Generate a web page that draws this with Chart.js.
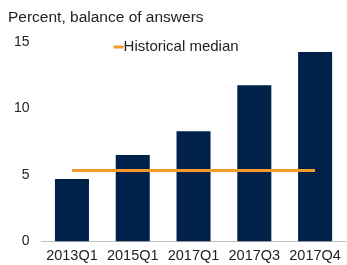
<!DOCTYPE html>
<html>
<head>
<meta charset="utf-8">
<script src="https://cdn.jsdelivr.net/npm/chart.js@4"></script>
<style>
  html, body { margin: 0; padding: 0; background: #fff; }
  #wrap { width: 347px; height: 265px; }
</style>
</head>
<body>
<div id="wrap"><canvas id="chart" width="347" height="265"></canvas></div>
<script>
var categories = ['2013Q1', '2015Q1', '2017Q1', '2017Q3', '2017Q4'];
var balanceValues = [4.7, 6.5, 8.3, 11.75, 14.25];
var medianValues = [5.35, 5.35, 5.35, 5.35, 5.35];
var yTicks = [0, 5, 10, 15];
var titleText = 'Percent, balance of answers';

var FONT = '"Liberation Sans", Arial, sans-serif';
var ORANGE = '#F39A2E';

document.addEventListener('DOMContentLoaded', function () {
    Chart.defaults.font.family = FONT;
    Chart.defaults.color = '#222';

    // title at top left and legend inside the plot area
    var labelsPlugin = {
        id: 'labelsPlugin',
        afterDraw: function (chart) {
            var c = chart.ctx;
            var area = chart.chartArea;
            c.save();
            c.fillStyle = '#222';
            c.textBaseline = 'middle';
            c.font = '15.5px ' + FONT;
            c.fillText(titleText, 8, 18);

            var x = area.left + 72;
            var y = area.top + 5;
            c.strokeStyle = ORANGE;
            c.lineWidth = 3;
            c.beginPath();
            c.moveTo(x, y);
            c.lineTo(x + 10, y);
            c.stroke();
            c.font = '15px ' + FONT;
            c.fillText(chart.data.datasets[0].label, x + 10, y);
            c.restore();
        }
    };

    var ctx = document.getElementById('chart').getContext('2d');
    new Chart(ctx, {
        type: 'bar',
        data: {
            labels: categories,
            datasets: [{
                type: 'line',
                label: 'Historical median',
                data: medianValues,
                borderColor: ORANGE,
                backgroundColor: ORANGE,
                borderWidth: 3,
                pointRadius: 0,
                order: 0
            }, {
                label: 'Balance',
                data: balanceValues,
                backgroundColor: '#00224A',
                barPercentage: 0.56,
                categoryPercentage: 1.0,
                order: 1
            }]
        },
        options: {
            responsive: false,
            animation: false,
            layout: { padding: { left: 2, right: 1, top: 42, bottom: -6 } },
            plugins: {
                title: { display: false },
                legend: { display: false },
                tooltip: { enabled: false }
            },
            scales: {
                x: {
                    grid: { display: false, drawTicks: false },
                    border: { display: true, color: '#BFBFBF', width: 1 },
                    ticks: { color: '#222', padding: 6, maxRotation: 0, font: { size: 14.5 } }
                },
                y: {
                    min: 0,
                    max: 15,
                    afterBuildTicks: function (axis) {
                        axis.ticks = yTicks.map(function (v) { return { value: v }; });
                    },
                    grid: { display: false, drawTicks: false },
                    border: { display: false },
                    ticks: { color: '#222', padding: 12, font: { size: 14 } }
                }
            }
        },
        plugins: [labelsPlugin]
    });
});
</script>
</body>
</html>
